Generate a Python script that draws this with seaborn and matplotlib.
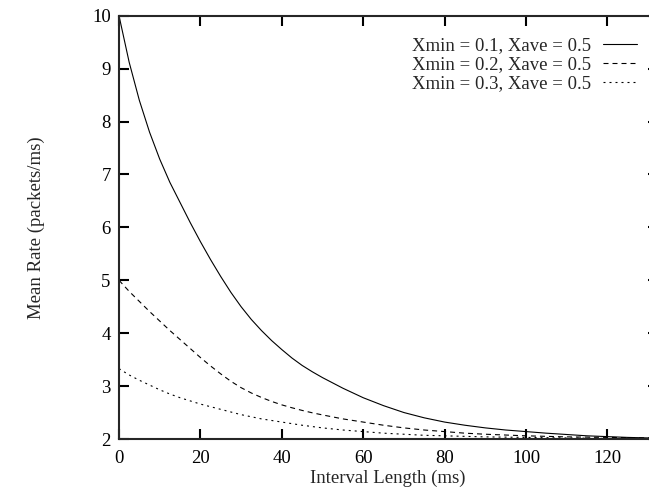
import numpy as np
import pandas as pd
import matplotlib
matplotlib.use("Agg")
import matplotlib.pyplot as plt
import seaborn as sns

# interval length (ms)
interval = [0, 2.5, 5, 7.5, 10, 12.5, 15, 17.5, 20, 22.5, 25, 27.5, 30, 32.5, 35, 37.5,
            40, 42.5, 45, 47.5, 50, 55, 60, 65, 70, 75, 80, 85, 90, 95, 100, 105, 110,
            115, 120, 125, 130, 132.3]

# mean rate (packets/ms)
rate_01 = [10.0, 9.12, 8.4, 7.8, 7.29, 6.85, 6.47, 6.09, 5.73, 5.39, 5.07, 4.77, 4.5, 4.26,
           4.05, 3.86, 3.69, 3.53, 3.39, 3.27, 3.16, 2.96, 2.78, 2.63, 2.5, 2.4, 2.32, 2.26,
           2.21, 2.17, 2.14, 2.11, 2.085, 2.06, 2.045, 2.03, 2.02, 2.02]
rate_02 = [5.0, 4.79, 4.6, 4.41, 4.23, 4.05, 3.88, 3.71, 3.54, 3.38, 3.23, 3.09, 2.97, 2.87,
           2.785, 2.71, 2.645, 2.59, 2.54, 2.495, 2.455, 2.38, 2.32, 2.26, 2.21, 2.17, 2.14,
           2.11, 2.09, 2.075, 2.06, 2.05, 2.04, 2.035, 2.03, 2.025, 2.02, 2.02]
rate_03 = [3.33, 3.21, 3.11, 3.02, 2.93, 2.85, 2.78, 2.72, 2.66, 2.61, 2.56, 2.51, 2.46, 2.42,
           2.38, 2.35, 2.32, 2.29, 2.26, 2.235, 2.21, 2.17, 2.14, 2.11, 2.09, 2.07, 2.06, 2.05,
           2.04, 2.035, 2.03, 2.025, 2.02, 2.015, 2.01, 2.01, 2.01, 2.01]

labels = ["Xmin = 0.1, Xave = 0.5", "Xmin = 0.2, Xave = 0.5", "Xmin = 0.3, Xave = 0.5"]
styles = ["-", (0, (4.5, 3.6)), (0, (1.8, 3.6))]

sns.set_style("ticks")
plt.rcParams["font.family"] = ["Liberation Serif", "DejaVu Serif"]

fig = plt.figure(figsize=(6.49, 4.93), dpi=100)
# the right edge of the plot sits just outside the picture
ax = fig.add_axes([119 / 649, 54 / 493, (657.5 - 119) / 649, (439 - 15.7) / 493])

for ys, lab, ls in zip([rate_01, rate_02, rate_03], labels, styles):
    df = pd.DataFrame({"x": interval, "y": ys})
    sns.lineplot(data=df, x="x", y="y", ax=ax, color="black", lw=0.8,
                 linestyle=ls, label=lab)

ax.set_xlim(0, 132.3)
ax.set_ylim(2, 10)
ax.set_xticks(np.arange(0, 121, 20))
ax.set_yticks(np.arange(2, 11, 1))

for s in ["left", "bottom", "top", "right"]:
    ax.spines[s].set_linewidth(1.5)

ax.tick_params(direction="in", length=7.5, width=1.5, labelsize=13.5,
               top=True, right=True, colors="black")
ax.tick_params(axis="x", pad=8)
ax.tick_params(axis="y", pad=6)

ax.set_xlabel("Interval Length (ms)", fontsize=13.5, labelpad=2)
ax.set_ylabel("Mean Rate (packets/ms)", fontsize=13.5)
ax.yaxis.set_label_coords(-0.137, 0.5)

leg = ax.legend(loc="upper right", bbox_to_anchor=(637 / 649, 1 - 37 / 493),
                bbox_transform=fig.transFigure, frameon=False, markerfirst=False,
                fontsize=13.5, handlelength=1.8, handletextpad=0.65,
                labelspacing=0.1, borderpad=0, borderaxespad=0)
for t in leg.get_texts():
    t.set_ha("right")

fig.savefig("out.png", dpi=100)
